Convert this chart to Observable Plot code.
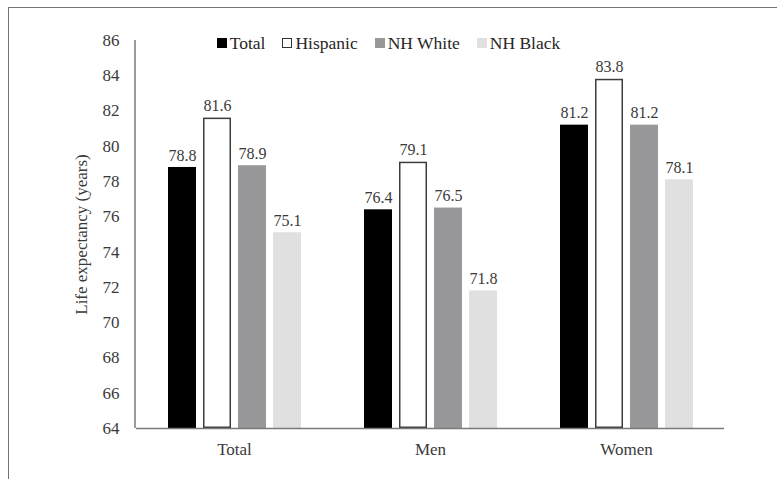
<!DOCTYPE html>
<html>
<head>
<meta charset="utf-8">
<script src="https://cdn.jsdelivr.net/npm/d3@7"></script>
<script src="https://cdn.jsdelivr.net/npm/@observablehq/plot@0.6"></script>
<style>
  html, body { margin: 0; padding: 0; background: #fff; }
  #wrap { position: relative; width: 777px; height: 479px; overflow: hidden; font-family: "Liberation Serif", "Times New Roman", "DejaVu Serif", serif; color: #333; }
  #box { position: absolute; left: 8px; top: 7px; width: 800px; height: 500px; border-top: 1.5px solid #747474; border-left: 1.5px solid #747474; }
  #chart { position: absolute; left: 0; top: 0; }
  #legend { position: absolute; left: 0; top: 33px; width: 777px; display: flex; justify-content: center; font-size: 17.5px; line-height: 20px; color: #262626; }
  #legend .item { display: flex; align-items: center; margin: 0 8.5px; }
  #legend .sw { width: 10px; height: 10px; margin-right: 3px; box-sizing: border-box; }
  #chart svg text { font-family: "Liberation Serif", "Times New Roman", "DejaVu Serif", serif; }
</style>
</head>
<body>
<div id="wrap">
  <div id="box"></div>
  <div id="chart"></div>
  <div id="legend"></div>
</div>
<script>
// Life expectancy at birth by sex and race/ethnicity (years)
const groups = ["Total", "Men", "Women"];
const races = ["Total", "Hispanic", "NH White", "NH Black"];
const totalValues = [78.8, 76.4, 81.2];
const hispanicValues = [81.6, 79.1, 83.8];
const whiteValues = [78.9, 76.5, 81.2];
const blackValues = [75.1, 71.8, 78.1];
const yTicks = [64, 66, 68, 70, 72, 74, 76, 78, 80, 82, 84, 86];
const raceColors = ["#000000", "#ffffff", "#98989a", "#e0e0e1"];

const seriesValues = [totalValues, hispanicValues, whiteValues, blackValues];
const rows = groups.flatMap((group, gi) =>
  races.map((race, ri) => ({group, race, value: seriesValues[ri][gi]}))
);

const plot = Plot.plot({
  width: 777,
  height: 479,
  marginLeft: 135,
  marginRight: 52,
  marginTop: 40,
  marginBottom: 51,
  style: {fontSize: "17px", color: "#3a3a3a", background: "transparent"},
  fx: {domain: groups, padding: 0, label: null, axis: "bottom", tickSize: 0, tickPadding: 14},
  x: {domain: races, padding: 0.2, paddingOuter: 0.9, axis: null},
  y: {domain: [64, 86], ticks: yTicks, label: null},
  color: {domain: races, range: raceColors},
  marks: [
    Plot.barY(rows, {fx: "group", x: "race", y1: 64, y2: "value", fill: "race"}),
    Plot.barY(rows.filter(d => d.race === "Hispanic"), {
      fx: "group", x: "race", y1: 64, y2: "value",
      fill: "none", stroke: "#3c3c3c", strokeWidth: 1.5, inset: 0.75
    }),
    Plot.text(rows, {
      fx: "group", x: "race", y: "value",
      text: d => d.value.toFixed(1), dy: -12, fontSize: 16, fill: "#3a3a3a"
    }),
    Plot.ruleY([64], {stroke: "#7a7a7a", strokeWidth: 1.5}),
    Plot.axisY({
      ticks: yTicks, tickSize: 0, tickPadding: 17,
      label: "Life expectancy (years)", labelAnchor: "center", labelArrow: "none", labelOffset: 62
    })
  ]
});
document.getElementById("chart").append(plot);

// vertical axis line drawn from the plot's own y scale
const y = plot.scale("y");
d3.select(plot).append("line")
  .attr("x1", 135).attr("x2", 135)
  .attr("y1", y.apply(86)).attr("y2", y.apply(64))
  .attr("stroke", "#7a7a7a").attr("stroke-width", 1.5);

// legend
const legend = d3.select("#legend");
races.forEach((race, i) => {
  const item = legend.append("div").attr("class", "item");
  item.append("div").attr("class", "sw")
    .style("background", raceColors[i])
    .style("border", race === "Hispanic" ? "1.2px solid #333" : "none");
  item.append("span").text(race);
});
</script>
</body>
</html>
